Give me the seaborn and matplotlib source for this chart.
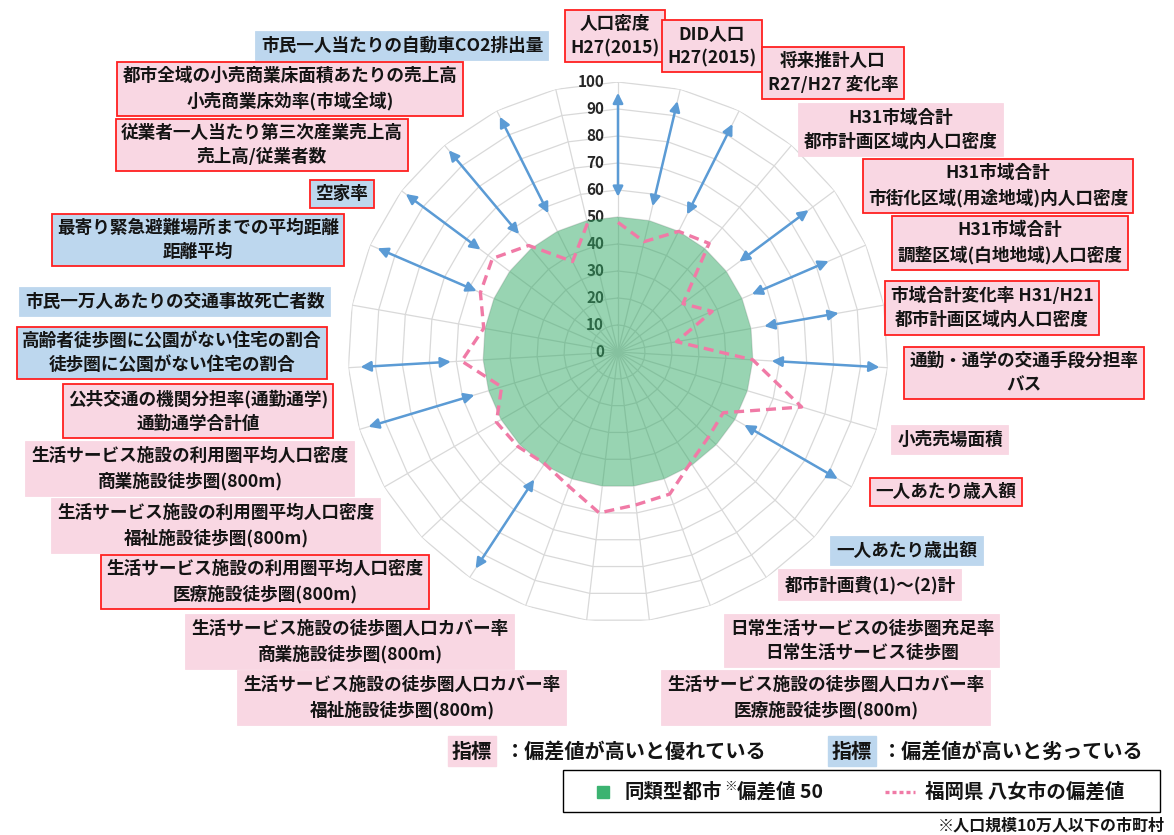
import numpy as np
import matplotlib
matplotlib.use("Agg")
import matplotlib.pyplot as plt
import seaborn as sns
import pandas as pd
from matplotlib.patches import Rectangle
from matplotlib.lines import Line2D

# ---------------- data ----------------
categories = [
    "人口密度\nH27(2015)",
    "DID人口\nH27(2015)",
    "将来推計人口\nR27/H27 変化率",
    "H31市域合計\n都市計画区域内人口密度",
    "H31市域合計\n市街化区域(用途地域)内人口密度",
    "H31市域合計\n調整区域(白地地域)人口密度",
    "市域合計変化率 H31/H21\n都市計画区域内人口密度",
    "通勤・通学の交通手段分担率\nバス",
    "小売売場面積",
    "一人あたり歳入額",
    "一人あたり歳出額",
    "都市計画費(1)～(2)計",
    "日常生活サービスの徒歩圏充足率\n日常生活サービス徒歩圏",
    "生活サービス施設の徒歩圏人口カバー率\n医療施設徒歩圏(800m)",
    "生活サービス施設の徒歩圏人口カバー率\n福祉施設徒歩圏(800m)",
    "生活サービス施設の徒歩圏人口カバー率\n商業施設徒歩圏(800m)",
    "生活サービス施設の利用圏平均人口密度\n医療施設徒歩圏(800m)",
    "生活サービス施設の利用圏平均人口密度\n福祉施設徒歩圏(800m)",
    "生活サービス施設の利用圏平均人口密度\n商業施設徒歩圏(800m)",
    "公共交通の機関分担率(通勤通学)\n通勤通学合計値",
    "高齢者徒歩圏に公園がない住宅の割合\n徒歩圏に公園がない住宅の割合",
    "市民一万人あたりの交通事故死亡者数",
    "最寄り緊急避難場所までの平均距離\n距離平均",
    "空家率",
    "従業者一人当たり第三次産業売上高\n売上高/従業者数",
    "都市全域の小売商業床面積あたりの売上高\n小売商業床効率(市域全域)",
    "市民一人当たりの自動車CO2排出量",
]

yame_values = [48, 42, 50, 52.5, 30, 38, 22, 50, 71, 45, 46, 49, 56, 57,
               60, 53, 49.5, 51, 52, 45, 58, 50.5, 55.5, 58, 51.5, 37.5, 49]

peer_values = [50, 50, 50, 50, 50, 50, 50, 50, 50, 50, 50, 50, 50, 50,
               50, 50, 50, 50, 50, 50, 50, 50, 50, 50, 50, 50, 50]

# 'good' = higher is better (pink), 'bad' = higher is worse (blue)
label_kind = ["good", "good", "good", "good", "good", "good", "good", "good",
              "good", "good", "bad", "good", "good", "good", "good", "good",
              "good", "good", "good", "good", "bad", "bad", "bad", "bad",
              "good", "good", "bad"]
label_border = [True, True, True, False, True, True, True, True, False, True,
                False, False, False, False, False, False, True, False, False,
                True, True, False, True, True, True, True, False]

arrow_idx = [0, 1, 2, 4, 5, 6, 7, 9, 16, 19, 20, 22, 23, 24, 25]
arrow_r_in = [57.5, 55.5, 57, 56, 54, 55, 57, 54, 56.5, 55.5, 62, 57, 63.5, 57, 57.5]
arrow_r_out = [96, 95.5, 94.5, 88, 85, 83, 97, 94, 96, 96.5, 95.5, 97, 98, 97.5, 97.5]

r_ticks = [0, 10, 20, 30, 40, 50, 60, 70, 80, 90, 100]

legend_peer = ["同類型都市", "※", "偏差値 50"]
legend_city = "福岡県 八女市の偏差値"
note_good = "：偏差値が高いと優れている"
note_bad = "：偏差値が高いと劣っている"
note_tag = "指標"
footnote = "※人口規模10万人以下の市町村"

# ---------------- layout (pixel positions of label boxes) ----------------
W, H = 1174, 835
label_pos = [
    (615, 36), (712, 46), (833, 73), (901, 130), (998, 186), (1010, 243),
    (992, 308), (1024, 373), (950, 440), (946, 492), (907, 551), (870, 585),
    (862, 641), (826, 698), (402, 698), (350, 642), (265, 582), (216, 526),
    (190, 469), (198, 411), (172, 353), (175, 302), (198, 240), (342, 194),
    (262, 145), (290, 89), (402, 46),
]

PINK = "#F9D7E3"
BLUE = "#BDD7EE"
RED = "#FF2020"
GREEN_FILL = "#33AA66"
GREEN_MARK = "#3CB371"
LINE_PINK = "#F07AA6"
ARROW_BLUE = "#5B9BD5"
GRID = "#D9D9D9"

sns.set_theme(style="white")
plt.rcParams["font.family"] = ["Noto Sans CJK JP", "DejaVu Sans"]


def fx(x):
    return x / W


def fy(y):
    return 1 - y / H


fig = plt.figure(figsize=(W / 100, H / 100), dpi=100)
fig.patch.set_facecolor("white")

cx, cy, R = 618, 352, 270
ax = fig.add_axes([fx(cx - R), fy(cy + R), 2 * R / W, 2 * R / H], projection="polar")
ax.set_theta_zero_location("N")
ax.set_theta_direction(-1)
ax.grid(False)
ax.spines["polar"].set_visible(False)
ax.set_facecolor("none")

n = len(categories)
theta = np.linspace(0, 2 * np.pi, n, endpoint=False)
theta_c = np.append(theta, theta[0])

# polygon grid rings and spokes
for r in r_ticks[1:]:
    ax.plot(theta_c, [r] * (n + 1), color=GRID, lw=0.9, zorder=1)
for t in theta:
    ax.plot([t, t], [0, 100], color=GRID, lw=0.9, zorder=1)

# radial labels
for r in r_ticks:
    ax.annotate(str(r), xy=(0, r), xytext=(-10, 0), textcoords="offset points",
                ha="right", va="center", fontsize=11, fontweight="bold",
                color="#262626", zorder=1.5, annotation_clip=False)

# peer (deviation 50) filled area
peer_c = np.append(peer_values, peer_values[0])
ax.fill(theta_c, peer_c, color=GREEN_FILL, alpha=0.5, lw=0, zorder=2)

# city line
df = pd.DataFrame({"theta": theta_c, "value": np.append(yame_values, yame_values[0])})
sns.lineplot(data=df, x="theta", y="value", ax=ax, sort=False, color=LINE_PINK,
             lw=2.4, linestyle=(0, (3.0, 1.8)), zorder=4)

# double-headed arrows
for i, r0, r1 in zip(arrow_idx, arrow_r_in, arrow_r_out):
    ax.annotate("", xy=(theta[i], r1), xytext=(theta[i], r0),
                arrowprops=dict(arrowstyle="<|-|>", color=ARROW_BLUE, lw=1.8,
                                mutation_scale=15, shrinkA=0, shrinkB=0),
                zorder=5, annotation_clip=False)

ax.set_ylim(0, 100)
ax.set_xticks([])
ax.set_yticks([])
ax.set_xlabel("")
ax.set_ylabel("")

# category label boxes
for lab, (x, y), kind, border in zip(categories, label_pos, label_kind, label_border):
    fc = PINK if kind == "good" else BLUE
    ec = RED if border else fc
    fig.text(fx(x), fy(y), lab, ha="center", va="center", ma="center",
             fontsize=12.7, fontweight="bold", color="#141414", linespacing=1.45,
             bbox=dict(boxstyle="square,pad=0.3", fc=fc, ec=ec, lw=1.3))

# indicator notes
fig.text(fx(472), fy(751), note_tag, ha="center", va="center", fontsize=14.5,
         fontweight="bold", color="#141414",
         bbox=dict(boxstyle="square,pad=0.2", fc=PINK, ec=PINK))
fig.text(fx(505), fy(751), note_good, ha="left", va="center", fontsize=14.5,
         fontweight="bold", color="#141414")
fig.text(fx(852), fy(751), note_tag, ha="center", va="center", fontsize=14.5,
         fontweight="bold", color="#141414",
         bbox=dict(boxstyle="square,pad=0.2", fc=BLUE, ec=BLUE))
fig.text(fx(882), fy(751), note_bad, ha="left", va="center", fontsize=14.5,
         fontweight="bold", color="#141414")

# legend box
fig.add_artist(Rectangle((fx(563), fy(812)), 597 / W, 42 / H, transform=fig.transFigure,
                         fill=False, ec="black", lw=1.0))
fig.add_artist(Line2D([fx(603)], [fy(792)], marker="s", ms=9, color=GREEN_MARK,
                      lw=0, transform=fig.transFigure))
fig.text(fx(625), fy(792), legend_peer[0], ha="left", va="center", fontsize=14,
         fontweight="bold", color="#141414")
fig.text(fx(724), fy(786), legend_peer[1], ha="left", va="center", fontsize=9,
         fontweight="bold", color="#141414")
fig.text(fx(737), fy(792), legend_peer[2], ha="left", va="center", fontsize=14,
         fontweight="bold", color="#141414")
fig.add_artist(Line2D([fx(885), fx(915)], [fy(792), fy(792)], color=LINE_PINK, lw=2.4,
                      linestyle=(0, (1.2, 0.9)), transform=fig.transFigure))
fig.text(fx(925), fy(792), legend_city, ha="left", va="center", fontsize=14,
         fontweight="bold", color="#141414")

fig.text(fx(1165), fy(826), footnote, ha="right", va="center", fontsize=11.5,
         fontweight="bold", color="#141414")

fig.savefig("out.png", dpi=100, facecolor="white")
